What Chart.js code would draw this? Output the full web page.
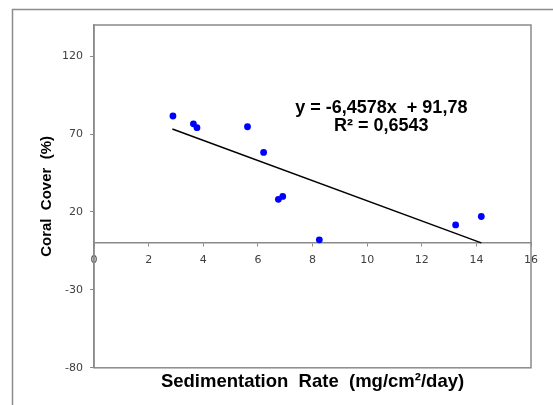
<!DOCTYPE html>
<html>
<head>
<meta charset="utf-8">
<script src="https://cdn.jsdelivr.net/npm/chart.js@4.4.1/dist/chart.umd.min.js"></script>
<style>
    html, body { margin: 0; padding: 0; background: #ffffff; }
    #wrap { position: relative; width: 553px; height: 405px; }
</style>
</head>
<body>
<div id="wrap"><canvas id="chart"></canvas></div>
<script>
    // Sedimentation rate (mg/cm²/day) and coral cover (%) per station
    const sedimentation = [2.89, 3.64, 3.77, 5.62, 6.21, 6.75, 6.91, 8.25, 13.24, 14.18];
    const coralCover = [81.6, 76.6, 74.1, 74.7, 58.2, 28.1, 30.0, 2.1, 11.7, 17.1];

    // linear trend line end points, as drawn
    const trendX = [2.87, 14.18];
    const trendY = [73.3, 0.2];

    const yTickValues = [-80, -30, 20, 70, 120];
    const equationLines = ['y = -6,4578x  + 91,78', 'R² = 0,6543'];

    const axisGrey = '#8a8a8a';
    const tickText = '#404040';

    const framePlugin = {
        id: 'frames',
        beforeDraw(chart) {
            const ctx = chart.ctx;
            ctx.save();
            ctx.strokeStyle = '#8c8c8c';
            ctx.lineWidth = 1.5;
            ctx.beginPath();
            ctx.moveTo(12.5, chart.height);
            ctx.lineTo(12.5, 9.5);
            ctx.lineTo(chart.width, 9.5);
            ctx.stroke();
            ctx.restore();
        },
        afterDatasetsDraw(chart) {
            const { ctx, chartArea, scales } = chart;
            ctx.save();
            ctx.strokeStyle = axisGrey;
            ctx.lineWidth = 1.5;
            ctx.strokeRect(chartArea.left, chartArea.top, chartArea.right - chartArea.left, chartArea.bottom - chartArea.top);

            ctx.fillStyle = '#000000';
            ctx.font = 'bold 18px "Liberation Sans", Arial, sans-serif';
            ctx.textAlign = 'center';
            ctx.textBaseline = 'middle';
            const ex = scales.x.getPixelForValue(10.52);
            ctx.fillText(equationLines[0], ex, scales.y.getPixelForValue(87.0));
            ctx.fillText(equationLines[1], ex, scales.y.getPixelForValue(75.0));
            ctx.restore();
        }
    };

    const ctx = document.getElementById('chart').getContext('2d');
    const chart = new Chart(ctx, {
        type: 'scatter',
        data: {
            datasets: [
                {
                    label: 'Coral cover',
                    data: sedimentation.map((x, i) => ({ x: x, y: coralCover[i] })),
                    backgroundColor: '#0000ff',
                    borderColor: '#0000ff',
                    borderWidth: 0,
                    pointRadius: 3.4,
                    pointHoverRadius: 3.4
                },
                {
                    label: 'Linear',
                    data: trendX.map((x, i) => ({ x: x, y: trendY[i] })),
                    showLine: true,
                    borderColor: '#000000',
                    borderWidth: 1.5,
                    pointRadius: 0,
                    fill: false
                }
            ]
        },
        options: {
            responsive: true,
            maintainAspectRatio: false,
            animation: false,
            layout: {
                padding: { top: 25, right: 22, bottom: 12, left: 12 }
            },
            plugins: {
                legend: { display: false },
                tooltip: { enabled: false },
                title: {
                    display: true,
                    position: 'bottom',
                    fullSize: false,
                    text: 'Sedimentation  Rate  (mg/cm²/day)',
                    color: '#000000',
                    font: { family: '"Liberation Sans", Arial, sans-serif', size: 18.5, weight: 'bold' },
                    padding: { top: 3, bottom: 0 }
                }
            },
            scales: {
                x: {
                    type: 'linear',
                    position: { y: 0 },
                    min: 0,
                    max: 16,
                    ticks: {
                        stepSize: 2,
                        color: tickText,
                        padding: 7,
                        font: { family: '"DejaVu Sans", Verdana, sans-serif', size: 11 }
                    },
                    grid: {
                        drawOnChartArea: false,
                        drawTicks: true,
                        tickLength: 3,
                        color: axisGrey
                    },
                    border: { color: axisGrey, width: 1.5 }
                },
                y: {
                    type: 'linear',
                    position: 'left',
                    min: -80,
                    max: 140,
                    afterFit(scale) { scale.width = 82; },
                    afterBuildTicks(scale) { scale.ticks = yTickValues.map(v => ({ value: v })); },
                    ticks: {
                        color: tickText,
                        padding: 7,
                        font: { family: '"DejaVu Sans", Verdana, sans-serif', size: 11 }
                    },
                    grid: {
                        drawOnChartArea: false,
                        drawTicks: true,
                        tickLength: 4,
                        color: axisGrey
                    },
                    border: { color: axisGrey, width: 1.5 },
                    title: {
                        display: true,
                        text: 'Coral  Cover  (%)',
                        color: '#000000',
                        font: { family: '"Liberation Sans", Arial, sans-serif', size: 15, weight: 'bold' },
                        padding: { top: 26, bottom: 0 }
                    }
                }
            }
        },
        plugins: [framePlugin]
    });
</script>
</body>
</html>
